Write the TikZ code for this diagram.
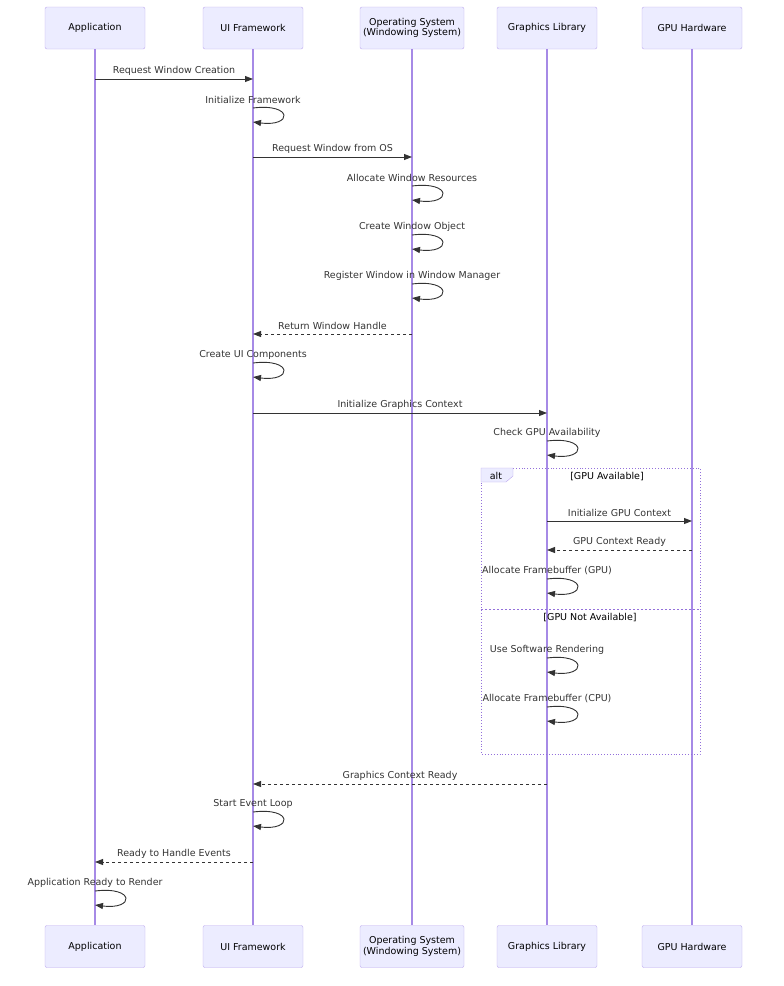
\documentclass[tikz,border=0pt]{standalone}
\usepackage{fontspec}
\setmainfont{DejaVu Sans}
\usetikzlibrary{arrows.meta}
\definecolor{actorfill}{HTML}{ECECFF}
\definecolor{actorline}{HTML}{BCA8EE}
\definecolor{lifeline}{HTML}{A68AE6}
\definecolor{altline}{HTML}{9370DB}
\definecolor{msgline}{HTML}{333333}

\begin{document}
\begin{tikzpicture}[x=1pt,y=-1pt,font=\fontsize{9.5}{11}\selectfont,
	actor/.style={draw=actorline,fill=actorfill,rounded corners=2pt,minimum width=100pt,minimum height=42pt,align=center,inner sep=1pt,font=\fontsize{9.5}{10.5}\selectfont},
	lifeline/.style={draw=lifeline,line width=1.2pt},
	msg/.style={draw=msgline,line width=0.9pt,-{Triangle[length=8pt,width=6pt]}},
	reply/.style={msg,dash pattern=on 3pt off 3pt},
	txt/.style={text=msgline,inner sep=1pt},
	altframe/.style={draw=altline,line width=0.9pt,dotted}]
	\useasboundingbox (0,0) rectangle (784,986);

	%actors and lifelines
	\foreach \name/\x/\w/\txt in {app/95/100/Application, uifw/253/100/UI Framework, os/412/104/{Operating System\\(Windowing System)}, gfx/547/100/Graphics Library, gpu/692/100/GPU Hardware}{
		\node[actor,minimum width=\w pt] (\name) at (\x,28) {\txt};
		\node[actor,minimum width=\w pt] (\name B) at (\x,946.5) {\txt};
		\draw[lifeline] (\name.south) -- (\name B.north);
	}

	%alt frame
	\draw[altframe] (481,468) rectangle (700,754); %frame
	\draw[draw=actorline,fill=actorfill] (481,468) -- (513,468) -- (513,476) -- (506,482) -- (481,482) -- cycle; %alt tab
	\node[txt,text=black] (alttag) at (496,475.5) {alt};
	\node[txt,text=black] (case1) at (607,477) {[GPU Available]};
	\draw[altframe,dash pattern=on 2pt off 2pt] (481,609) -- (700,609); %separator
	\node[txt,text=black] (case2) at (590,618) {[GPU Not Available]};

	%messages
	\draw[msg] (app |- 0,79) -- node[txt,yshift=8.5pt]{Request Window Creation} (uifw |- 0,79);
	\node[txt] (m2) at (uifw |- 0,99.5) {Initialize Framework};
	\draw[msg] (uifw |- 0,108) .. controls +(40,-5) and +(40,5) .. (uifw |- 0,122);
	\draw[msg] (uifw |- 0,157) -- node[txt,yshift=8.5pt]{Request Window from OS} (os |- 0,157);
	\node[txt] (m4) at (os |- 0,177.5) {Allocate Window Resources};
	\draw[msg] (os |- 0,186) .. controls +(40,-5) and +(40,5) .. (os |- 0,200);
	\node[txt] (m5) at (os |- 0,226.5) {Create Window Object};
	\draw[msg] (os |- 0,235) .. controls +(40,-5) and +(40,5) .. (os |- 0,249);
	\node[txt] (m6) at (os |- 0,275.5) {Register Window in Window Manager};
	\draw[msg] (os |- 0,284) .. controls +(40,-5) and +(40,5) .. (os |- 0,298);
	\draw[reply] (os |- 0,334) -- node[txt,yshift=8.5pt]{Return Window Handle} (uifw |- 0,334);
	\node[txt] (m8) at (uifw |- 0,354.5) {Create UI Components};
	\draw[msg] (uifw |- 0,363) .. controls +(40,-5) and +(40,5) .. (uifw |- 0,377);
	\draw[msg] (uifw |- 0,413) -- node[txt,yshift=8.5pt]{Initialize Graphics Context} (gfx |- 0,413);
	\node[txt] (m10) at (gfx |- 0,432.5) {Check GPU Availability};
	\draw[msg] (gfx |- 0,441) .. controls +(40,-5) and +(40,5) .. (gfx |- 0,455);

	%alt branches
	\draw[msg] (gfx |- 0,521) -- node[txt,yshift=8.5pt]{Initialize GPU Context} (gpu |- 0,521);
	\draw[reply] (gpu |- 0,550) -- node[txt,yshift=8.5pt]{GPU Context Ready} (gfx |- 0,550);
	\node[txt] (m13) at (gfx |- 0,570.5) {Allocate Framebuffer (GPU)};
	\draw[msg] (gfx |- 0,579) .. controls +(40,-5) and +(40,5) .. (gfx |- 0,593);
	\node[txt] (m14) at (gfx |- 0,649.5) {Use Software Rendering};
	\draw[msg] (gfx |- 0,658) .. controls +(40,-5) and +(40,5) .. (gfx |- 0,672);
	\node[txt] (m15) at (gfx |- 0,698.5) {Allocate Framebuffer (CPU)};
	\draw[msg] (gfx |- 0,707) .. controls +(40,-5) and +(40,5) .. (gfx |- 0,721);

	%back to the app
	\draw[reply] (gfx |- 0,784) -- node[txt,yshift=8.5pt]{Graphics Context Ready} (uifw |- 0,784);
	\node[txt] (m17) at (uifw |- 0,803.5) {Start Event Loop};
	\draw[msg] (uifw |- 0,812) .. controls +(40,-5) and +(40,5) .. (uifw |- 0,826);
	\draw[reply] (uifw |- 0,862) -- node[txt,yshift=8.5pt]{Ready to Handle Events} (app |- 0,862);
	\node[txt] (m19) at (app |- 0,882.5) {Application Ready to Render};
	\draw[msg] (app |- 0,891) .. controls +(40,-5) and +(40,5) .. (app |- 0,905);
\end{tikzpicture}
\end{document}
